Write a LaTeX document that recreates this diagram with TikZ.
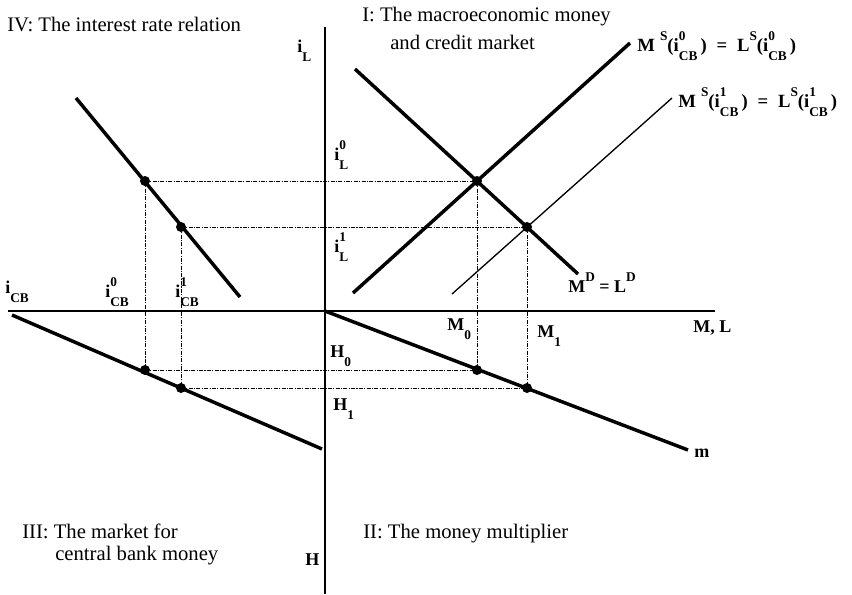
\documentclass[tikz,border=0pt]{standalone}
\usepackage{fontspec}
\setmainfont{Liberation Serif}
\usepackage{tikz}
\usetikzlibrary{positioning, calc}

\newcommand{\supx}[1]{\raisebox{8pt}{\fontsize{10}{10}\selectfont #1}}
\newcommand{\subx}[1]{\raisebox{-7pt}{\fontsize{10}{10}\selectfont #1}}
\newcommand{\supsubx}[2]{\rlap{\supx{#1}}\subx{#2}}

\tikzset{
    axis/.style={line width=2.2pt},
    curve/.style={line width=2.6pt},
    thincurve/.style={line width=1pt},
    guide/.style={line width=0.7pt, dash pattern=on 3pt off 1pt on 0.8pt off 1pt},
    dot/.style={circle, fill=black, inner sep=0pt, minimum size=7.5pt},
    title/.style={font=\fontsize{15.5}{19}\selectfont, inner sep=0pt, anchor=base west},
    lab/.style={font=\fontsize{13.5}{15}\selectfont\bfseries, inner sep=0pt, anchor=base west},
    biglab/.style={lab, font=\fontsize{14}{16}\selectfont\bfseries},
}

\begin{document}
\begin{tikzpicture}[x=0.75pt, y=-0.75pt]
    \useasboundingbox (0,0) rectangle (852,594);

    % axes
    \coordinate (O) at (325,311);
    \coordinate (xl) at (8,311);
    \coordinate (xr) at (715,311);
    \coordinate (yt) at (325,27);
    \coordinate (yb) at (325,594);
    \draw[axis] (xl) -- (xr);
    \draw[axis] (yt) -- (yb);

    % equilibrium points
    \node[dot] (A0) at (477,181) {};
    \node[dot] (A1) at (527,227) {};
    \node[dot] (B0) at (145,181) {};
    \node[dot] (B1) at (181,227) {};
    \node[dot] (C0) at (145,370) {};
    \node[dot] (C1) at (181,388) {};
    \node[dot] (E0) at (477,370) {};
    \node[dot] (E1) at (527,388) {};

    \draw[guide] (B0.center) -- (A0.center);
    \draw[guide] (B1.center) -- (A1.center);
    \draw[guide] (B0.center) -- (C0.center);
    \draw[guide] (B1.center) -- (C1.center);
    \draw[guide] (A0.center) -- (E0.center);
    \draw[guide] (A1.center) -- (E1.center);
    \draw[guide] (C0.center) -- (E0.center);
    \draw[guide] (C1.center) -- (E1.center);

    % curve ends
    \coordinate (ivtop) at (76,98);
    \coordinate (ivbot) at (240,297);
    \coordinate (iiistart) at (12,315);
    \coordinate (iiiend) at (322,449);
    \coordinate (mend) at (688,450);
    \coordinate (dtop) at (355,69);
    \coordinate (dbot) at (578,274);
    \coordinate (s0bot) at (353,293);
    \coordinate (s0top) at (630,43);
    \coordinate (s1bot) at (452,294);
    \coordinate (s1top) at (672,98);

    \draw[curve] (ivtop) -- (ivbot);
    \draw[curve] (iiistart) -- (iiiend);
    \draw[curve] (O) -- (mend);
    \draw[curve] (dtop) -- (dbot);
    \draw[curve] (s0bot) -- (s0top);
    \draw[thincurve] (s1bot) -- (s1top);

    % quadrant titles
    \node[title] (tIV) at (7,31) {IV: The interest rate relation};
    \node[title] (tI) at (362,21) {I: The macroeconomic money};
    \node[title] (tIb) at (390,49) {and credit market};
    \node[title] (tIII) at (22,538) {III: The market for};
    \node[title] (tIIIb) at (55,560) {central bank money};
    \node[title] (tII) at (363,538) {II: The money multiplier};

    % axis labels
    \node[lab] (iL) at (297,52) {i\subx{L}};
    \node[lab] (H) at (305,565) {H};
    \node[lab] (ML) at (693,332) {M, L};
    \node[lab] (iCB) at (5,293) {i\subx{CB}};
    \node[lab] (i0CB) at (105,297) {i\supsubx{0}{CB}};
    \node[lab] (i1CB) at (175,297) {i\supsubx{1}{CB}};
    \node[lab] (iL0) at (334,160) {i\supsubx{0}{L}};
    \node[lab] (iL1) at (334,252) {i\supsubx{1}{L}};
    \node[lab] (M0) at (447,330) {M\subx{0}};
    \node[lab] (M1) at (537,337) {M\subx{1}};
    \node[lab] (H0) at (330,357) {H\subx{0}};
    \node[lab] (H1) at (333,410) {H\subx{1}};
    \node[lab] (mlab) at (694,457) {m};
    \node[lab] (MD) at (568,292) {M\supx{D} = L\supx{D}};
    \node[biglab] (MS0) at (637,51) {M\;\supx{S}(i\supsubx{0}{CB}\,)\; = \;L\supx{S}(i\supsubx{0}{CB}\,)};
    \node[biglab] (MS1) at (678,107) {M\;\supx{S}(i\supsubx{1}{CB}\,)\; = \;L\supx{S}(i\supsubx{1}{CB}\,)};
\end{tikzpicture}
\end{document}
